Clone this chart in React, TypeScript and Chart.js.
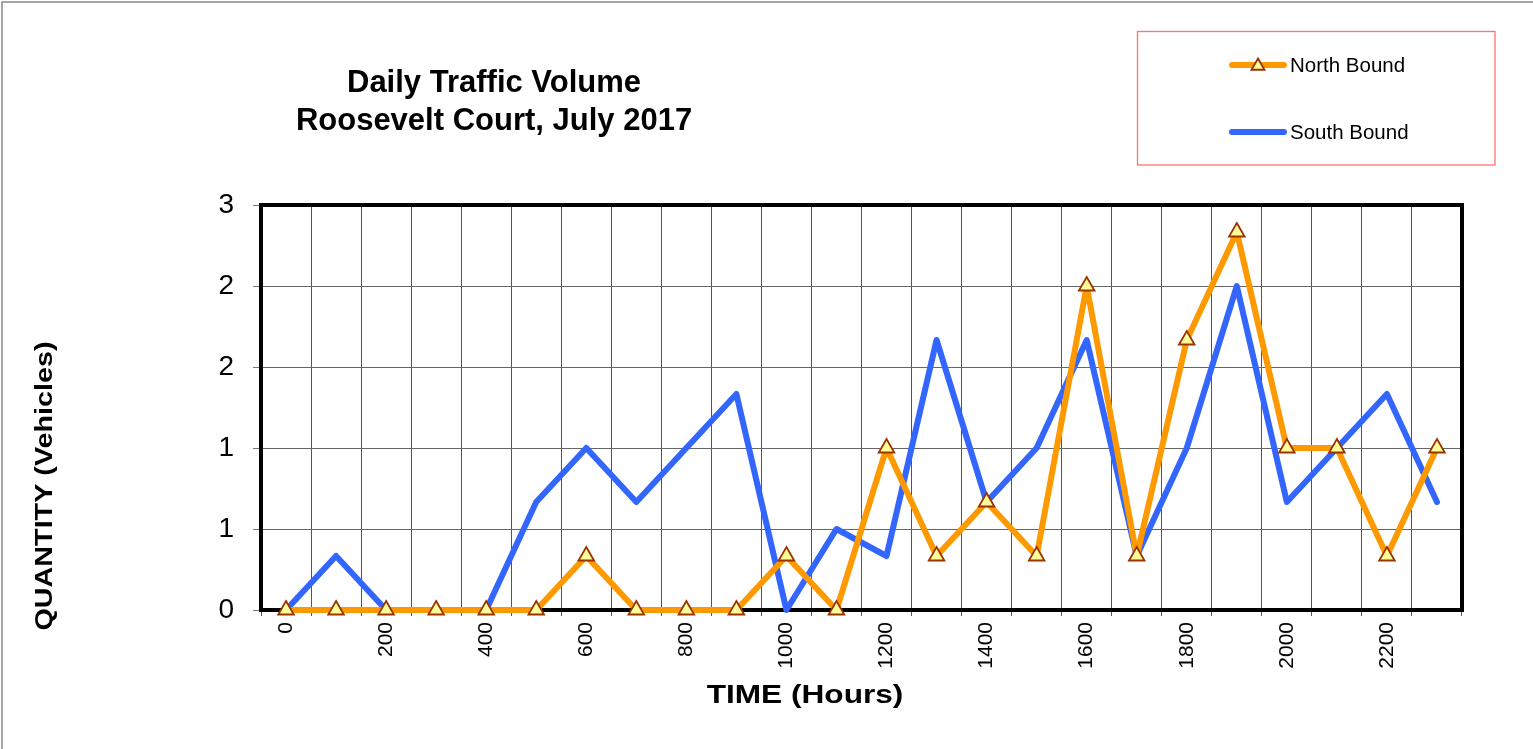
import React, { useEffect, useRef } from 'react';
import { Chart, registerables } from 'chart.js';

Chart.register(...registerables);

// ---- data ----
const hours: string[] = ['0', '100', '200', '300', '400', '500', '600', '700', '800', '900', '1000', '1100', '1200', '1300', '1400', '1500', '1600', '1700', '1800', '1900', '2000', '2100', '2200', '2300'];
const northBound: number[] = [0, 0, 0, 0, 0, 0, 0.4, 0, 0, 0, 0.4, 0, 1.2, 0.4, 0.8, 0.4, 2.4, 0.4, 2.0, 2.8, 1.2, 1.2, 0.4, 1.2];
const southBound: number[] = [0, 0.4, 0, 0, 0, 0.8, 1.2, 0.8, 1.2, 1.6, 0, 0.6, 0.4, 2.0, 0.8, 1.2, 2.0, 0.4, 1.2, 2.4, 0.8, 1.2, 1.6, 0.8];
const seriesNames: string[] = ['North Bound', 'South Bound'];
const yMin = 0;
const yMax = 3;
const yStep = 0.6;
const titleLines: string[] = ['Daily Traffic Volume', 'Roosevelt Court, July 2017'];
const xTitle = 'TIME (Hours)';
const yTitle = 'QUANTITY (Vehicles)';

const FONT = '"Liberation Sans", Arial, Helvetica, sans-serif';
const ORANGE = '#FF9900';
const BLUE = '#3366FF';
const MARKER_FILL = '#FFFF99';
const MARKER_EDGE = '#993300';

function drawTriangle(ctx: CanvasRenderingContext2D, x: number, y: number, r: number) {
  ctx.beginPath();
  for (let i = 0; i < 3; i++) {
    const a = (i * 2 * Math.PI) / 3;
    const px = x + Math.sin(a) * r;
    const py = y - Math.cos(a) * r;
    if (i === 0) ctx.moveTo(px, py);
    else ctx.lineTo(px, py);
  }
  ctx.closePath();
  ctx.fillStyle = MARKER_FILL;
  ctx.fill();
  ctx.lineWidth = 1.8;
  ctx.strokeStyle = MARKER_EDGE;
  ctx.stroke();
}

const decorPlugin = {
  id: 'decor',
  beforeDatasetsDraw(chart: any) {
    const { ctx, chartArea } = chart;
    ctx.save();
    ctx.lineWidth = 4;
    ctx.strokeStyle = '#000';
    ctx.strokeRect(chartArea.left, chartArea.top, chartArea.right - chartArea.left, chartArea.bottom - chartArea.top);
    ctx.restore();
  },
  afterDraw(chart: any) {
    const { ctx } = chart;
    ctx.save();
    // outer frame (top + left)
    ctx.strokeStyle = '#8a8a8a';
    ctx.lineWidth = 1.5;
    ctx.beginPath();
    ctx.moveTo(2, chart.height);
    ctx.lineTo(2, 2);
    ctx.lineTo(chart.width, 2);
    ctx.stroke();

    // title
    ctx.fillStyle = '#000';
    ctx.textAlign = 'center';
    ctx.textBaseline = 'alphabetic';
    ctx.font = `bold 31px ${FONT}`;
    ctx.fillText(titleLines[0], 494, 92);
    ctx.fillText(titleLines[1], 494, 130);

    // x axis title (stretched horizontally)
    ctx.save();
    ctx.font = `bold 25.5px ${FONT}`;
    ctx.translate(805, 703);
    ctx.scale(1.24, 1);
    ctx.fillText(xTitle, 0, 0);
    ctx.restore();

    // y axis title
    ctx.save();
    ctx.font = `bold 23px ${FONT}`;
    ctx.translate(52, 486);
    ctx.rotate(-Math.PI / 2);
    ctx.scale(1.25, 1);
    ctx.fillText(yTitle, 0, 0);
    ctx.restore();

    // legend
    ctx.strokeStyle = '#FF7070';
    ctx.lineWidth = 1.3;
    ctx.strokeRect(1137.5, 31.5, 357.5, 133.5);
    ctx.lineCap = 'round';
    ctx.lineWidth = 6;
    ctx.strokeStyle = ORANGE;
    ctx.beginPath();
    ctx.moveTo(1232, 65);
    ctx.lineTo(1284, 65);
    ctx.stroke();
    drawTriangle(ctx, 1258, 66, 7.5);
    ctx.strokeStyle = BLUE;
    ctx.lineWidth = 6;
    ctx.beginPath();
    ctx.moveTo(1232, 132);
    ctx.lineTo(1284, 132);
    ctx.stroke();
    ctx.fillStyle = '#000';
    ctx.textAlign = 'left';
    ctx.font = `20.5px ${FONT}`;
    ctx.fillText(seriesNames[0], 1290, 72);
    ctx.fillText(seriesNames[1], 1290, 138.5);
    ctx.restore();
  },
};

export default function App() {
  const canvasRef = useRef<HTMLCanvasElement | null>(null);

  useEffect(() => {
    const canvas = canvasRef.current;
    if (!canvas) return;
    Chart.defaults.font.family = FONT;
    const chart = new Chart(canvas, {
      type: 'line',
      data: {
        labels: hours,
        datasets: [
          {
            label: seriesNames[0],
            data: northBound,
            borderColor: ORANGE,
            backgroundColor: ORANGE,
            borderWidth: 6,
            borderJoinStyle: 'round',
            borderCapStyle: 'round',
            tension: 0,
            pointStyle: 'triangle',
            pointRadius: 9,
            pointHoverRadius: 9,
            pointBackgroundColor: MARKER_FILL,
            pointBorderColor: MARKER_EDGE,
            pointBorderWidth: 1.8,
            clip: false,
          } as any,
          {
            label: seriesNames[1],
            data: southBound,
            borderColor: BLUE,
            backgroundColor: BLUE,
            borderWidth: 6,
            borderJoinStyle: 'round',
            borderCapStyle: 'round',
            tension: 0,
            pointRadius: 0,
            pointHoverRadius: 0,
            clip: false,
          } as any,
        ],
      },
      options: {
        responsive: false,
        animation: false,
        devicePixelRatio: 1,
        layout: { padding: { left: 0, top: 205, right: 71, bottom: 0 } },
        plugins: {
          legend: { display: false },
          title: { display: false },
          tooltip: { enabled: false },
        },
        events: [],
        scales: {
          x: {
            type: 'category',
            offset: true,
            grid: {
              offset: true,
              color: '#555',
              lineWidth: 1,
              drawTicks: true,
              tickLength: 6,
              tickColor: '#555',
            },
            border: { display: false },
            ticks: {
              autoSkip: false,
              minRotation: 90,
              maxRotation: 90,
              padding: 6,
              color: '#000',
              font: { size: 21, family: FONT },
              callback: (_v: any, i: number) => (i % 2 === 0 ? hours[i] : ''),
            },
            afterFit: (scale: any) => {
              scale.height = 139;
            },
          },
          y: {
            type: 'linear',
            min: yMin,
            max: yMax,
            grid: {
              color: '#666',
              lineWidth: 1,
              drawTicks: true,
              tickLength: 8,
              tickColor: '#777',
            },
            border: { display: false },
            ticks: {
              stepSize: yStep,
              padding: 19,
              color: '#000',
              font: { size: 28, family: FONT },
              callback: (v: any) => String(Math.round(Number(v))),
            },
            afterFit: (scale: any) => {
              scale.width = 261;
            },
          },
        },
      },
      plugins: [decorPlugin],
    });
    return () => chart.destroy();
  }, []);

  return (
    <div style={{ position: 'absolute', left: 0, top: 0, width: 1533, height: 749, background: '#fff' }}>
      <canvas ref={canvasRef} width={1533} height={749} style={{ display: 'block' }} />
    </div>
  );
}
